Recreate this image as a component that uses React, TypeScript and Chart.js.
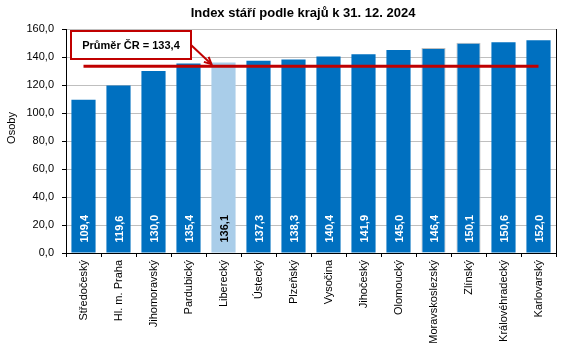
import React, { useEffect, useRef } from "react";
import { Chart, registerables } from "chart.js";

Chart.register(...registerables);

const categories = [
  "Středočeský", "Hl. m. Praha", "Jihomoravský", "Pardubický", "Liberecký",
  "Ústecký", "Plzeňský", "Vysočina", "Jihočeský", "Olomoucký",
  "Moravskoslezský", "Zlínský", "Královéhradecký", "Karlovarský",
];
const values = [109.4, 119.6, 130.0, 135.4, 136.1, 137.3, 138.3, 140.4, 141.9, 145.0, 146.4, 150.1, 150.6, 152.0];
const averageValue = 133.4;
const averageSeries = categories.map(() => averageValue);
const highlightIndex = 4;
const titleText = "Index stáří podle krajů k 31. 12. 2024";
const yTitle = "Osoby";
const avgLabel = "Průměr ČR = 133,4";

const FONT = "'Liberation Sans', Arial, sans-serif";
const fmt = (v: number) => v.toFixed(1).replace(".", ",");

const overlayPlugin = {
  id: "overlay",
  afterDatasetsDraw(chart: any) {
    const ctx = chart.ctx;
    const meta = chart.getDatasetMeta(0);
    ctx.save();
    ctx.font = `bold 11px ${FONT}`;
    ctx.textAlign = "left";
    ctx.textBaseline = "middle";
    meta.data.forEach((bar: any, i: number) => {
      ctx.save();
      ctx.translate(bar.x + 1, bar.base - 10);
      ctx.rotate(-Math.PI / 2);
      ctx.fillStyle = i === highlightIndex ? "#000000" : "#FFFFFF";
      ctx.fillText(fmt(values[i]), 0, 0);
      ctx.restore();
    });
    ctx.restore();
  },
  afterDraw(chart: any) {
    const ctx = chart.ctx;
    const ca = chart.chartArea;
    ctx.save();
    // right border
    ctx.strokeStyle = "#000000";
    ctx.lineWidth = 1;
    ctx.beginPath();
    ctx.moveTo(Math.round(ca.right) + 0.5, ca.top);
    ctx.lineTo(Math.round(ca.right) + 0.5, ca.bottom);
    ctx.stroke();

    // title
    ctx.fillStyle = "#000000";
    ctx.font = `bold 13px ${FONT}`;
    ctx.textAlign = "center";
    ctx.textBaseline = "middle";
    ctx.fillText(titleText, 303, 13);

    // y title
    ctx.save();
    ctx.translate(12, 128);
    ctx.rotate(-Math.PI / 2);
    ctx.font = `11px ${FONT}`;
    ctx.fillText(yTitle, 0, 0);
    ctx.restore();

    // annotation box
    const bx = ca.left + 5;
    const by = ca.top + 2;
    const bw = 120;
    const bh = 28;
    ctx.fillStyle = "#FFFFFF";
    ctx.fillRect(bx, by, bw, bh);
    ctx.strokeStyle = "#C00000";
    ctx.lineWidth = 2;
    ctx.strokeRect(bx, by, bw, bh);
    ctx.fillStyle = "#000000";
    ctx.font = `bold 11px ${FONT}`;
    ctx.textAlign = "center";
    ctx.fillText(avgLabel, bx + bw / 2, by + bh / 2 + 0.5);

    // arrow
    const x0 = bx + bw;
    const y0 = by + bh / 2;
    const xs = chart.scales.x;
    const x1 = xs.getPixelForValue(highlightIndex) - 12;
    const y1 = chart.scales.y.getPixelForValue(averageValue) - 2;
    ctx.strokeStyle = "#C00000";
    ctx.lineWidth = 2;
    ctx.beginPath();
    ctx.moveTo(x0, y0);
    ctx.lineTo(x1, y1);
    ctx.stroke();
    const ang = Math.atan2(y1 - y0, x1 - x0);
    const L = 8;
    ctx.beginPath();
    ctx.moveTo(x1 - L * Math.cos(ang - 0.45), y1 - L * Math.sin(ang - 0.45));
    ctx.lineTo(x1, y1);
    ctx.lineTo(x1 - L * Math.cos(ang + 0.45), y1 - L * Math.sin(ang + 0.45));
    ctx.stroke();
    ctx.restore();
  },
};

export default function App() {
  const ref = useRef<HTMLCanvasElement>(null);
  useEffect(() => {
    document.body.style.margin = "0";
    const canvas = ref.current!;
    const chart = new Chart(canvas, {
      type: "bar",
      data: {
        labels: categories,
        datasets: [
          {
            type: "bar",
            data: values,
            backgroundColor: values.map((_, i) => (i === highlightIndex ? "#A9CDE9" : "#0070C0")),
            borderColor: values.map((_, i) => (i === 10 || i === 11 ? "#BFBFBF" : "rgba(0,0,0,0)")),
            borderWidth: values.map((_, i) => (i === 10 || i === 11 ? 1 : 0)),
            categoryPercentage: 1,
            barPercentage: 0.69,
            order: 1,
          } as any,
          {
            type: "line",
            data: averageSeries,
            borderColor: "#C00000",
            borderWidth: 3,
            pointRadius: 0,
            fill: false,
            order: 0,
          } as any,
        ],
      },
      options: {
        animation: false,
        responsive: false,
        maintainAspectRatio: false,
        layout: { padding: { top: 29, right: 12, left: 0, bottom: 0 } },
        plugins: { legend: { display: false }, title: { display: false }, tooltip: { enabled: false } },
        scales: {
          x: {
            grid: { display: true, drawOnChartArea: false, drawTicks: true, tickLength: 4, color: "#000000" },
            border: { color: "#000000", width: 1 },
            ticks: {
              color: "#000000",
              font: { family: FONT, size: 11 },
              minRotation: 90,
              maxRotation: 90,
              padding: 3,
              autoSkip: false,
            },
            afterFit: (s: any) => { s.height = 99; },
          },
          y: {
            min: 0,
            max: 160,
            grid: { color: "#BFBFBF", tickColor: "#000000", tickLength: 4, drawTicks: true },
            border: { color: "#000000", width: 1 },
            ticks: {
              stepSize: 20,
              color: "#000000",
              font: { family: FONT, size: 11 },
              padding: 8,
              callback: (v: any) => fmt(Number(v)),
            },
            afterFit: (s: any) => { s.width = 66; },
          },
        },
      },
      plugins: [overlayPlugin],
    });
    return () => chart.destroy();
  }, []);
  return <canvas ref={ref} width={568} height={352} style={{ display: "block", width: 568, height: 352 }} />;
}
